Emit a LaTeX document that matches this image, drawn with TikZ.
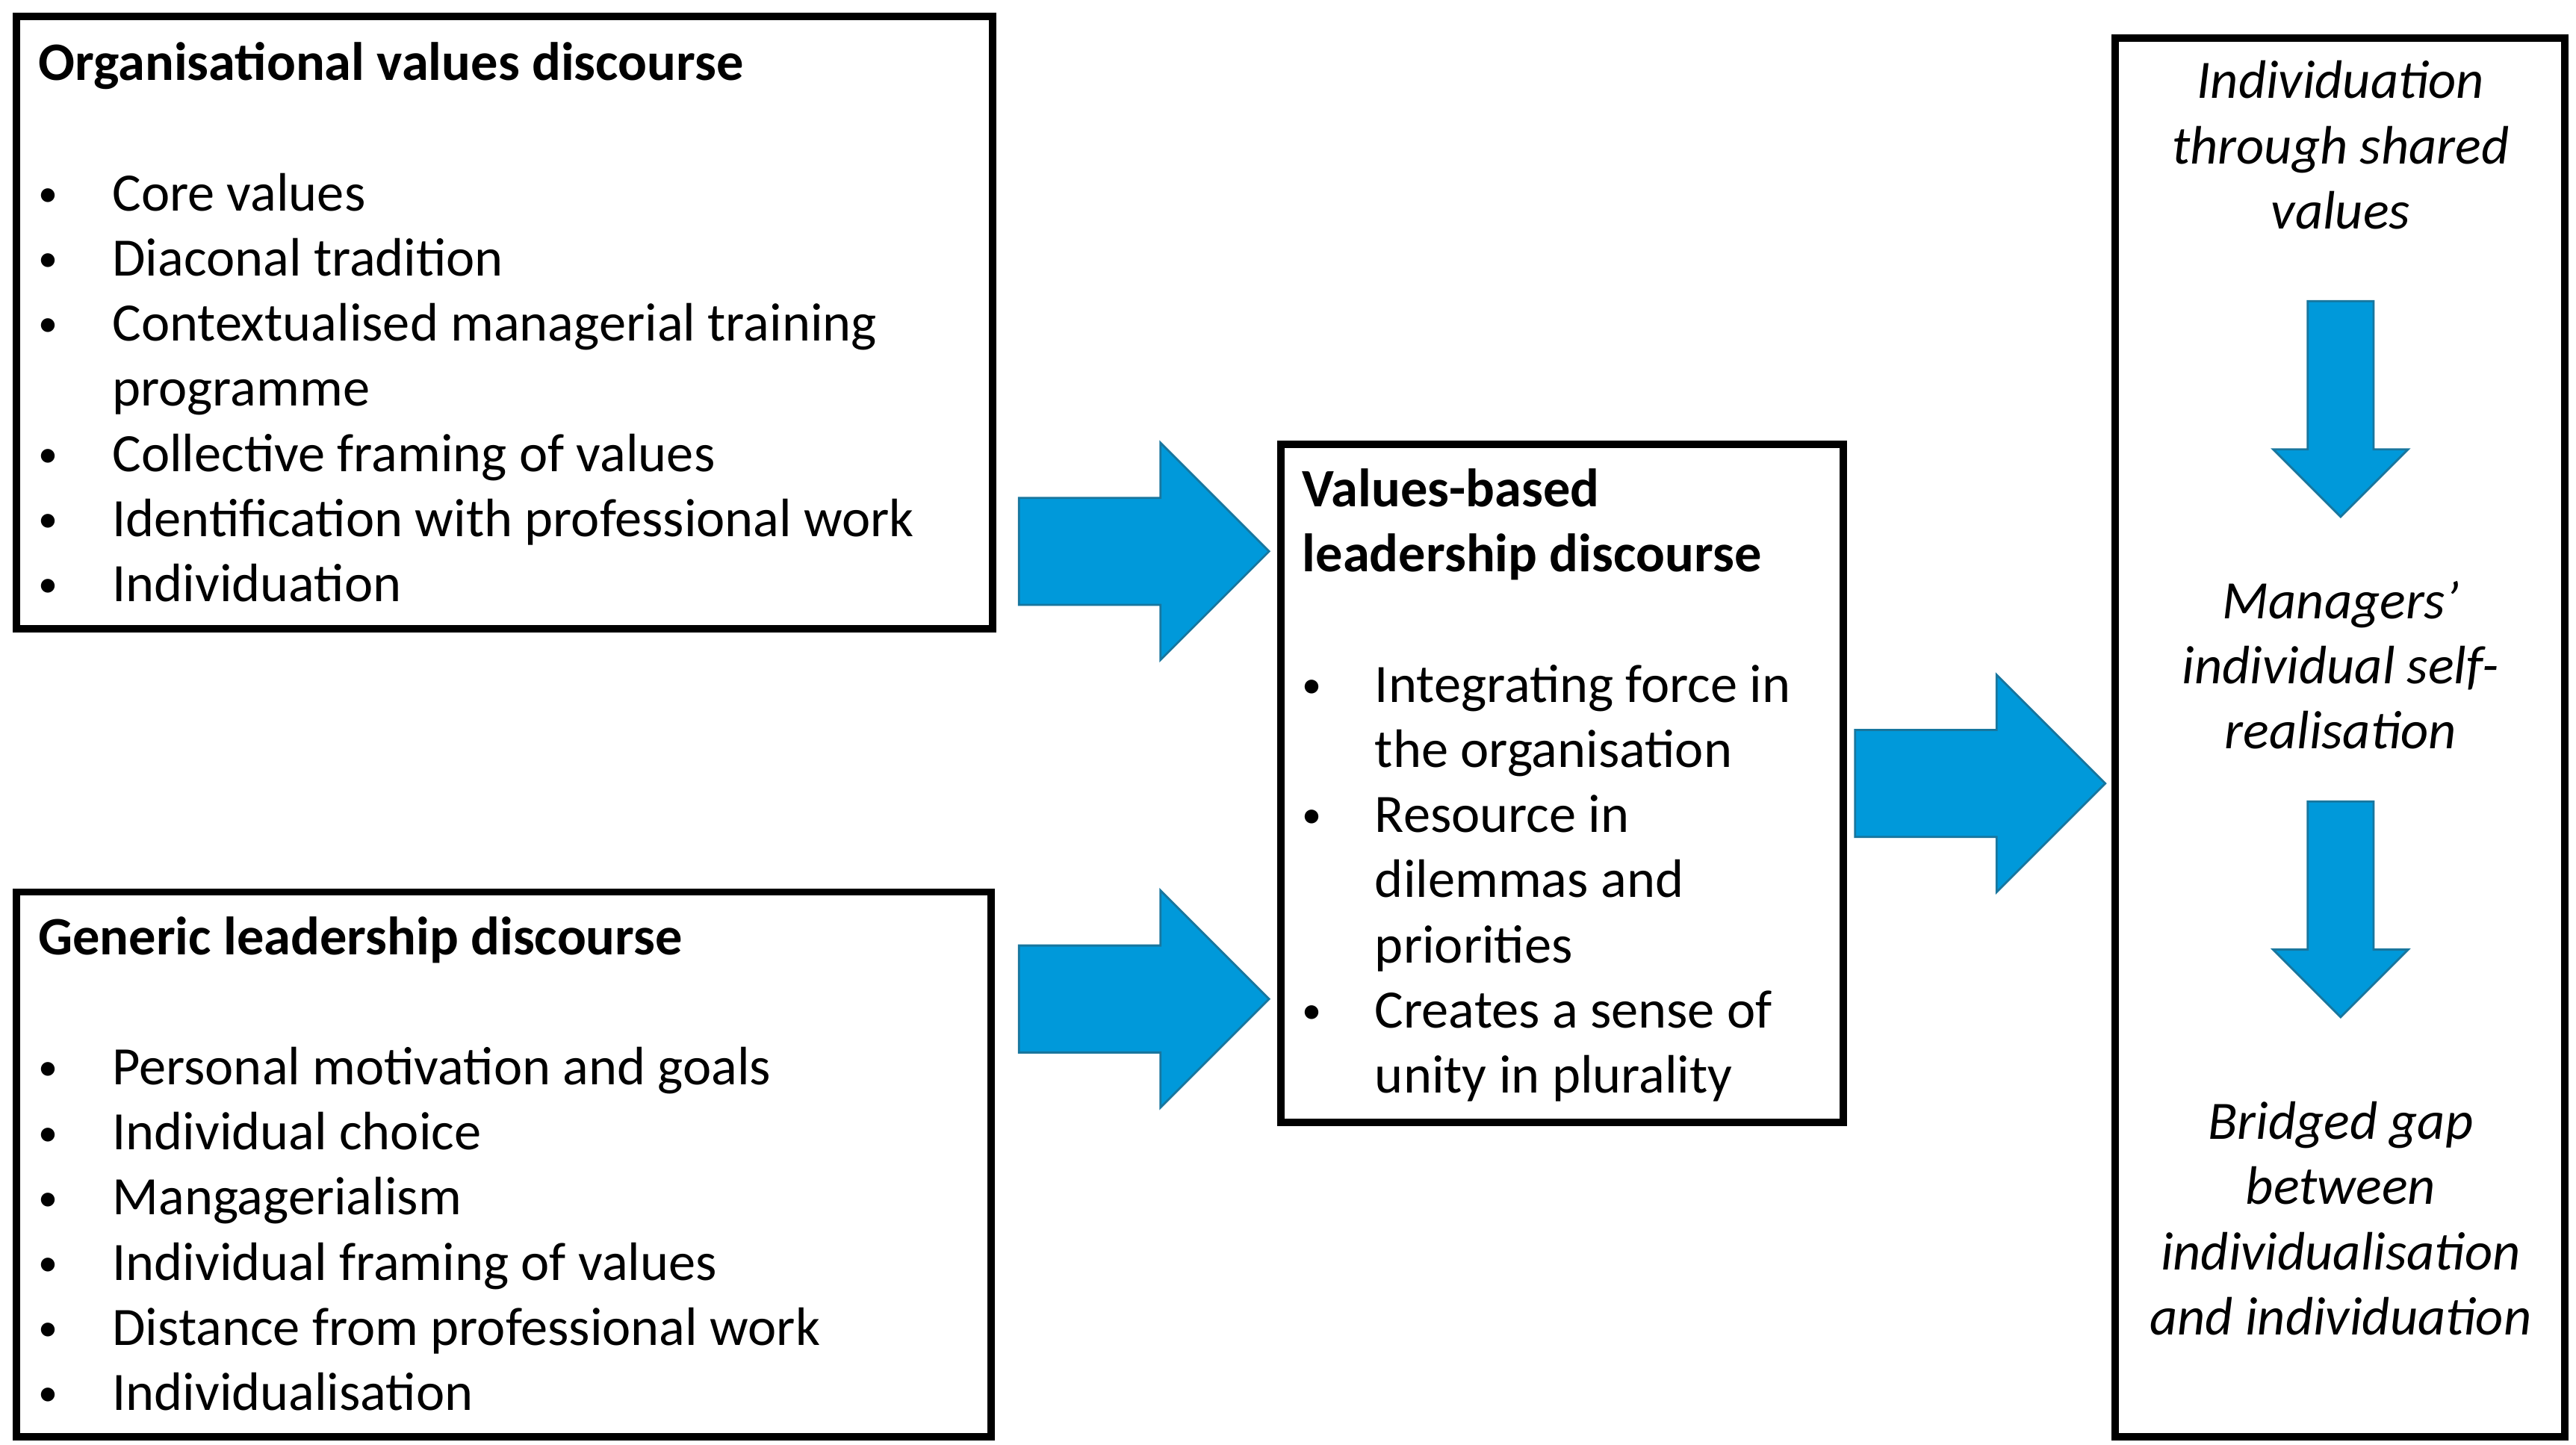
\documentclass[tikz,border=0pt]{standalone}
\usepackage{fontspec}
\setmainfont{Carlito}

\definecolor{arrowblue}{RGB}{0,153,218}
\definecolor{arrowedge}{RGB}{24,118,158}

\newlength\bulw \setlength\bulw{0.99cm}
\newlength\midw \setlength\midw{0.97cm}
\newcommand\pxu{0.02204cm}
\newcommand\itembullet{\raisebox{0.08em}{\scalebox{0.72}{\textbullet}}}

\tikzset{
  box/.style = {draw, line width=2.8pt},
  txt/.style = {anchor=base west, inner sep=0pt},
  steptxt/.style = {anchor=base, align=center, inner sep=0pt, font=\fontsize{20.6}{24.8}\selectfont\itshape},
  bluearrow/.style = {fill=arrowblue, draw=arrowedge, line width=0.8pt, line join=miter},
  rarrow/.pic = {\draw[bluearrow] (0,-32.5) -- (86,-32.5) -- (86,-66) -- (152,0) -- (86,66) -- (86,32.5) -- (0,32.5) -- cycle;},
  darrow/.pic = {\draw[bluearrow] (-20,0) -- (-20,90) -- (-41,90) -- (0,131) -- (41,90) -- (20,90) -- (20,0) -- cycle;}
}

\begin{document}
\begin{tikzpicture}[x=\pxu, y=-\pxu, font=\fontsize{20.6}{24.8}\selectfont]

	\useasboundingbox (0,0) rectangle (1565,878);

	% boxes
	\node[box, minimum width=593*\pxu, minimum height=372*\pxu] (org) at (306.5,196) {};
	\node[box, minimum width=592*\pxu, minimum height=331*\pxu] (gen) at (306,707.5) {};
	\node[box, minimum width=342*\pxu, minimum height=412*\pxu] (val) at (949,476) {};
	\node[box, minimum width=273*\pxu, minimum height=850*\pxu] (ind) at (1421.5,448) {};

	% box texts
	\node[txt] (orgtxt) at (23,49) {\begin{tabular}[t]{@{}p{\bulw}@{}l@{}}
		\multicolumn{2}{@{}l@{}}{\bfseries Organisational values discourse}\\
		&\\
		\itembullet & Core values\\
		\itembullet & Diaconal tradition\\
		\itembullet & Contextualised managerial training\\
		& programme\\
		\itembullet & Collective framing of values\\
		\itembullet & Identification with professional work\\
		\itembullet & Individuation
	\end{tabular}};

	\node[txt] (gentxt) at (23,580) {\begin{tabular}[t]{@{}p{\bulw}@{}l@{}}
		\multicolumn{2}{@{}l@{}}{\bfseries Generic leadership discourse}\\
		&\\
		\itembullet & Personal motivation and goals\\
		\itembullet & Individual choice\\
		\itembullet & Mangagerialism\\
		\itembullet & Individual framing of values\\
		\itembullet & Distance from professional work\\
		\itembullet & Individualisation
	\end{tabular}};

	\node[txt] (valtxt) at (791,308) {\begin{tabular}[t]{@{}p{\midw}@{}l@{}}
		\multicolumn{2}{@{}l@{}}{\bfseries Values-based}\\
		\multicolumn{2}{@{}l@{}}{\bfseries leadership discourse}\\
		&\\
		\itembullet & Integrating force in\\
		& the organisation\\
		\itembullet & Resource in\\
		& dilemmas and\\
		& priorities\\
		\itembullet & Creates a sense of\\
		& unity in plurality
	\end{tabular}};

	% stages, placed by the baseline of their last line
	\node[steptxt] (step1) at (1422,139) {Individuation\\through shared\\values};
	\node[steptxt] (step2) at (1422,455) {Managers’\\individual self-\\realisation};
	\node[steptxt] (step3) at (1422,811) {Bridged gap\\between\\individualisation\\and individuation};

	% block arrows
	\pic at (619,335) {rarrow};
	\pic at (619,607) {rarrow};
	\pic at (1127,476) {rarrow};
	\pic at (1422,183) {darrow};
	\pic at (1422,487) {darrow};

\end{tikzpicture}
\end{document}
